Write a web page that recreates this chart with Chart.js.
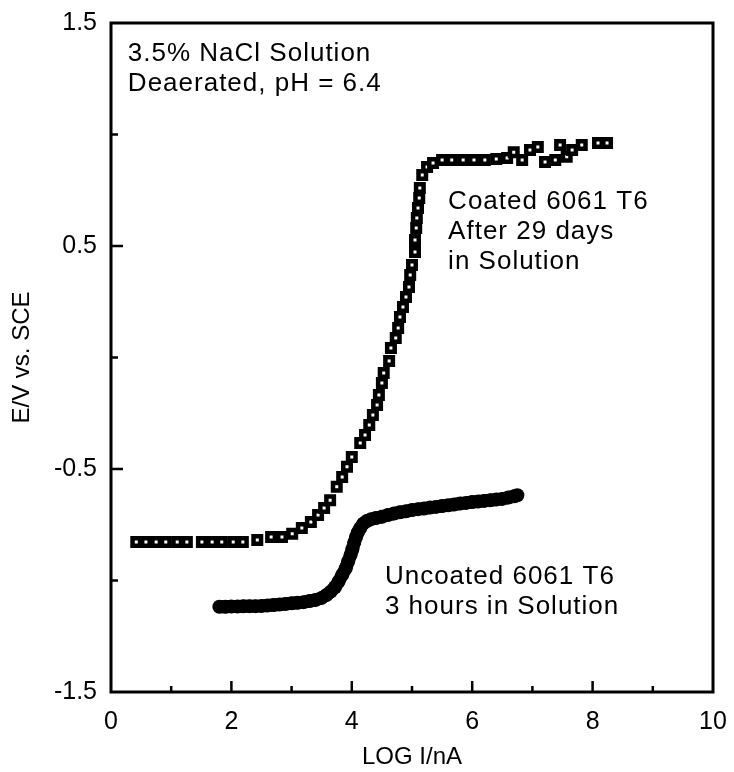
<!DOCTYPE html>
<html>
<head>
<meta charset="utf-8">
<script src="https://cdn.jsdelivr.net/npm/chart.js@4.4.0/dist/chart.umd.min.js"></script>
<style>
  html, body { margin: 0; padding: 0; background: #fff; }
  #wrap { width: 734px; height: 772px; position: relative; }
</style>
</head>
<body>
<div id="wrap"><canvas id="polChart"></canvas></div>
<script>
// coated 6061 T6, 29 days in solution (open squares)
const coatedX = [0.42, 0.58, 0.75, 0.91, 1.1, 1.26, 1.51, 1.68, 1.84, 2.03, 2.19,
  2.43, 2.66, 2.84, 3.01, 3.17, 3.32, 3.44, 3.54, 3.64, 3.75, 3.84, 3.92, 4.0,
  4.14, 4.22, 4.29, 4.35, 4.42, 4.45, 4.5, 4.53, 4.62, 4.65, 4.73, 4.77, 4.8, 4.85,
  4.9, 4.95, 4.97, 5.0, 5.05, 5.05, 5.07, 5.08, 5.1, 5.12, 5.13, 5.17, 5.25, 5.35,
  5.5, 5.66, 5.85, 6.03, 6.21, 6.4, 6.58, 6.69, 6.83, 6.96, 7.09, 7.21, 7.38, 7.46,
  7.57, 7.66, 7.82, 8.09, 8.24];
const coatedY = [-0.827, -0.827, -0.827, -0.827, -0.827, -0.827, -0.827, -0.827, -0.827, -0.827, -0.827,
  -0.818, -0.805, -0.805, -0.79, -0.765, -0.738, -0.706, -0.675, -0.64, -0.58, -0.536, -0.49, -0.446,
  -0.383, -0.348, -0.303, -0.258, -0.213, -0.168, -0.114, -0.07, -0.016, 0.043, 0.087, 0.132, 0.182, 0.226,
  0.271, 0.316, 0.37, 0.415, 0.473, 0.527, 0.581, 0.626, 0.67, 0.715, 0.76, 0.818, 0.854, 0.872,
  0.886, 0.886, 0.886, 0.886, 0.886, 0.89, 0.895, 0.92, 0.886, 0.93, 0.944, 0.877, 0.886, 0.953,
  0.9, 0.93, 0.953, 0.962, 0.962];

// uncoated 6061 T6, 3 hours in solution (filled dots)
const uncoatedX = [1.8, 1.9, 2.0, 2.1, 2.2, 2.3, 2.4, 2.5, 2.6, 2.7, 2.8, 2.9, 3.0, 3.1, 3.2, 3.3, 3.4,
  3.5, 3.58, 3.65, 3.72, 3.78, 3.84, 3.9, 3.94, 3.98, 4.01, 4.04, 4.07, 4.1, 4.14, 4.19, 4.25,
  4.32, 4.4, 4.5, 4.6, 4.7, 4.8, 4.9, 5.0, 5.1, 5.2, 5.3, 5.4, 5.5, 5.6, 5.7, 5.8, 5.9, 6.0,
  6.1, 6.2, 6.3, 6.4, 6.5, 6.6, 6.7, 6.75];
const uncoatedY = [-1.118, -1.118, -1.117, -1.117, -1.116, -1.115, -1.115, -1.114, -1.112, -1.11, -1.108,
  -1.105, -1.102, -1.1, -1.097, -1.092, -1.087, -1.078, -1.065, -1.05, -1.03, -1.005, -0.975, -0.945,
  -0.915, -0.885, -0.86, -0.83, -0.805, -0.785, -0.765, -0.745, -0.733, -0.725, -0.72, -0.714, -0.706,
  -0.7, -0.694, -0.69, -0.684, -0.68, -0.677, -0.673, -0.67, -0.666, -0.663, -0.659, -0.655, -0.652,
  -0.648, -0.646, -0.643, -0.64, -0.637, -0.634, -0.628, -0.622, -0.618];

const xLabels = [0, 2, 4, 6, 8, 10];
const yLabels = [1.5, 0.5, -0.5, -1.5];

const FONT = "'Liberation Sans', Arial, sans-serif";

const toPoints = (xs, ys) => xs.map((x, i) => ({ x: x, y: ys[i] }));

// notes written on the plot (data coordinates)
const notes = [
  { x: 0.28, y: 1.36, lines: ['3.5% NaCl Solution', 'Deaerated, pH = 6.4'] },
  { x: 5.6, y: 0.70, lines: ['Coated 6061 T6', 'After 29 days', 'in Solution'] },
  { x: 4.55, y: -0.985, lines: ['Uncoated 6061 T6', '3 hours in Solution'] }
];

// no extra room for label overhang, the plot box is placed by layout padding only
const fixBox = (s, size) => {
  if (s.isHorizontal()) s.height = size; else s.width = size;
  s.paddingLeft = s.paddingRight = s.paddingTop = s.paddingBottom = 0;
};

const frame = {
  id: 'frame',
  afterDraw(chart) {
    const c = chart.ctx, a = chart.chartArea;
    const xs = chart.scales.x, ys = chart.scales.y;
    c.save();
    c.strokeStyle = '#000';
    c.lineWidth = 3;
    c.strokeRect(a.left, a.top, a.right - a.left, a.bottom - a.top);
    c.lineWidth = 2.5;
    c.beginPath();
    for (let v = 1; v < 10; v++) {
      const px = xs.getPixelForValue(v);
      const len = v % 2 === 0 ? 11 : 6;
      c.moveTo(px, a.bottom);
      c.lineTo(px, a.bottom - len);
    }
    for (let v = -1.0; v <= 1.0001; v += 0.5) {
      const py = ys.getPixelForValue(v);
      const major = Math.abs(Math.abs(v) - 0.5) < 0.01;
      c.moveTo(a.left, py);
      c.lineTo(a.left + (major ? 12 : 7), py);
    }
    c.stroke();

    c.fillStyle = '#000';
    c.font = '26px ' + FONT;
    c.letterSpacing = '1px';
    c.textBaseline = 'middle';
    c.textAlign = 'left';
    notes.forEach(n => {
      const px = xs.getPixelForValue(n.x);
      const py = ys.getPixelForValue(n.y);
      n.lines.forEach((t, i) => c.fillText(t, px, py + i * 30));
    });
    c.restore();
  }
};

new Chart(document.getElementById('polChart'), {
  type: 'scatter',
  data: {
    datasets: [
      {
        label: 'Coated 6061 T6',
        data: toPoints(coatedX, coatedY),
        pointStyle: 'rect',
        pointRadius: 5.3,
        pointBorderWidth: 4.5,
        pointBackgroundColor: '#fff',
        pointBorderColor: '#000',
        showLine: false
      },
      {
        label: 'Uncoated 6061 T6',
        data: toPoints(uncoatedX, uncoatedY),
        pointStyle: 'circle',
        pointRadius: 7,
        pointBorderWidth: 0,
        pointBackgroundColor: '#000',
        showLine: true,
        borderColor: '#000',
        borderWidth: 13,
        tension: 0
      }
    ]
  },
  options: {
    responsive: true,
    maintainAspectRatio: false,
    animation: false,
    layout: { padding: { top: 23, right: 21, left: 0, bottom: 0 } },
    plugins: { legend: { display: false }, tooltip: { enabled: false } },
    scales: {
      x: {
        type: 'linear',
        min: 0, max: 10,
        afterFit: s => fixBox(s, 80),
        grid: { display: false, drawTicks: false },
        border: { display: false },
        ticks: {
          stepSize: 1,
          autoSkip: false,
          maxRotation: 0,
          padding: 15,
          color: '#000',
          font: { family: FONT, size: 25 },
          callback: v => xLabels.includes(v) ? String(v) : ''
        },
        title: {
          display: true,
          text: 'LOG I/nA',
          color: '#000',
          font: { family: FONT, size: 24 },
          padding: { top: 0, bottom: 0 }
        }
      },
      y: {
        type: 'linear',
        min: -1.5, max: 1.5,
        afterFit: s => fixBox(s, 111),
        grid: { display: false, drawTicks: false },
        border: { display: false },
        ticks: {
          stepSize: 0.5,
          autoSkip: false,
          padding: 14,
          color: '#000',
          font: { family: FONT, size: 25 },
          callback: v => yLabels.some(l => Math.abs(l - v) < 1e-6) ? v.toFixed(1) : ''
        },
        title: {
          display: true,
          text: 'E/V vs. SCE',
          color: '#000',
          font: { family: FONT, size: 24 },
          padding: { top: 8, bottom: 0 }
        }
      }
    }
  },
  plugins: [frame]
});
</script>
</body>
</html>
